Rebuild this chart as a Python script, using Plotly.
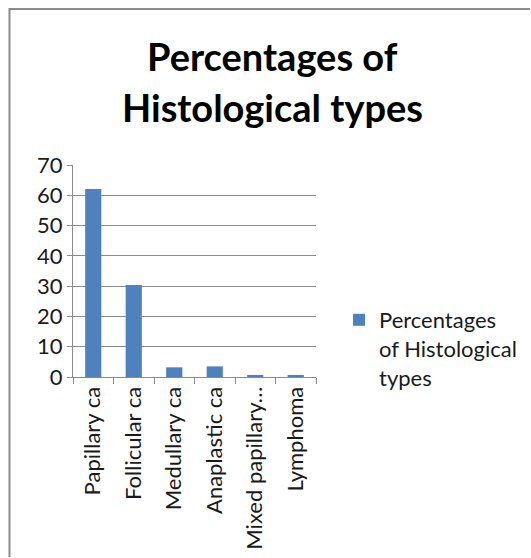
import plotly.graph_objects as go

# Histological type distribution (percent)
categories = ["Papillary ca", "Follicular ca", "Medullary ca", "Anaplastic ca",
              "Mixed papillary…", "Lymphoma"]
percentages = [62.1, 30.4, 3.2, 3.5, 0.4, 0.4]
series_name = "Percentages<br>of Histological<br>types"
y_ticks = [0, 10, 20, 30, 40, 50, 60, 70]

W, H = 531, 558
L, R, T, B = 73, 316, 165, 377  # plot area in pixels

FONT = "Lato"
BLUE = "#4F81BD"
GRID = "#8a8a8a"
TEXT = "#1a1a1a"

fig = go.Figure()
fig.add_trace(go.Bar(
    x=categories, y=percentages, name=series_name,
    marker=dict(color=BLUE, line=dict(width=0)),
    showlegend=True,
))


def px_x(p):
    return (p - L) / (R - L)


def px_y(p):
    return (B - p) / (B - T)


# outer chart frame (left and top edges)
frame = dict(type="line", xref="paper", yref="paper",
             line=dict(color="#8c8c8c", width=2), layer="above")
fig.add_shape(**frame, x0=px_x(9.5), x1=px_x(9.5), y0=px_y(H - 1), y1=px_y(8))
fig.add_shape(**frame, x0=px_x(9.5), x1=px_x(W - 1), y0=px_y(9), y1=px_y(9))

# chart title, two lines
for text, baseline in [("Percentages of", 72), ("Histological types", 123)]:
    fig.add_annotation(
        text=f"<b>{text}</b>", xref="paper", yref="paper",
        x=px_x(272), y=px_y(baseline + 9), xanchor="center", yanchor="bottom",
        showarrow=False, font=dict(family=FONT, size=38, color="black"),
    )

fig.update_layout(
    width=W, height=H,
    margin=dict(l=L, r=W - R, t=T, b=H - B, pad=0, autoexpand=False),
    paper_bgcolor="white", plot_bgcolor="white",
    font=dict(family=FONT, size=22, color=TEXT),
    bargap=0.6,
    xaxis=dict(
        type="category", tickangle=-90, tickson="boundaries",
        ticks="outside", ticklen=6, tickcolor=GRID, automargin=False,
        showline=True, linecolor=GRID, linewidth=1,
        showgrid=False, tickfont=dict(family=FONT, size=22, color=TEXT),
    ),
    yaxis=dict(
        range=[0, 70], tickvals=y_ticks, ticks="outside", ticklen=5,
        tickcolor=GRID, showline=True, linecolor=GRID, linewidth=1,
        showgrid=True, gridcolor=GRID, gridwidth=1, zeroline=False,
        automargin=False, tickfont=dict(family=FONT, size=22, color=TEXT),
    ),
    legend=dict(
        x=px_x(339), y=px_y(299), xanchor="left", yanchor="top",
        valign="top", font=dict(family=FONT, size=22, color=TEXT),
        bgcolor="rgba(0,0,0,0)", itemwidth=30,
    ),
)

fig.write_html("out.html")
